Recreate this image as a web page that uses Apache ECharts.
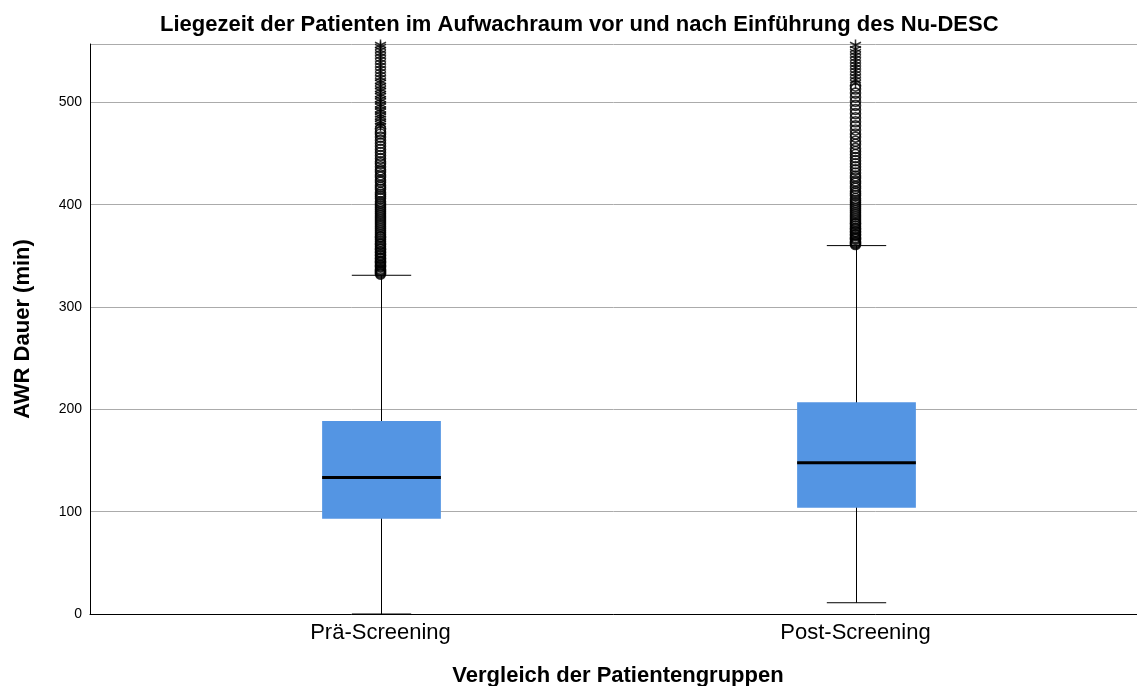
<!DOCTYPE html>
<html>
<head>
<meta charset="utf-8">
<script src="https://cdn.jsdelivr.net/npm/echarts@6/dist/echarts.min.js"></script>
<style>
  html, body { margin: 0; padding: 0; background: #fff; }
  #chart { width: 1137px; height: 686px; }
</style>
</head>
<body>
<div id="chart"></div>
<script>
// Patient groups
const categories = ['Prä-Screening', 'Post-Screening'];

// Box statistics per group: [lower whisker, Q1, median, Q3, upper whisker] in minutes
const preStats  = [0, 93, 133.5, 188.5, 331];
const postStats = [11, 103.8, 147.8, 207, 360];

// Outliers (circles) and extreme values (stars), minutes
const preOutliers = [332, 333, 334, 335, 336, 337, 339, 340, 341, 343, 344, 345, 347, 348, 350,
  351, 353, 354, 356, 357, 359, 361, 362, 364, 366, 368, 369, 371, 373, 375, 377, 379, 381, 383,
  385, 387, 389, 391, 393, 395, 397, 399, 401, 403, 406, 408, 410, 412, 415, 417, 419, 422, 424,
  427, 429, 432, 434, 437, 440, 442, 445, 448, 451, 454, 457, 460, 463, 466, 469, 471, 474];
const preExtremes = [477, 479, 481, 484, 486, 488, 491, 493, 496, 498, 501, 503, 506, 508, 511,
  513, 516, 519, 521, 524, 527, 530, 533, 536, 539, 542, 545, 548, 551, 554, 556];
const postOutliers = [361, 362, 363, 364, 366, 367, 368, 370, 371, 373, 374, 376, 377, 379, 381,
  382, 384, 386, 388, 390, 392, 394, 396, 398, 400, 402, 404, 406, 409, 411, 413, 416, 418, 421,
  423, 426, 428, 431, 434, 437, 440, 443, 446, 449, 452, 455, 459, 462, 466, 469, 473, 477, 481,
  485, 489, 493, 497, 501, 505, 509, 513, 516];
const postExtremes = [519, 522, 525, 528, 531, 534, 537, 540, 543, 546, 549, 552, 556];

// Y axis range / ticks
const yMin = 0, yMax = 557, yStep = 100;

const FONT = 'Liberation Sans, Arial, Helvetica, sans-serif';
const BOX_COLOR = '#5495e3';

const boxData = [[0].concat(preStats), [1].concat(postStats)];

function renderBox(params, api) {
  const idx = api.value(0);
  const band = api.size([1, 0])[0];
  const half = band * 0.125;
  const capHalf = band * 0.0625;
  const pMin = api.coord([idx, api.value(1)]);
  const pQ1 = api.coord([idx, api.value(2)]);
  const pMed = api.coord([idx, api.value(3)]);
  const pQ3 = api.coord([idx, api.value(4)]);
  const pMax = api.coord([idx, api.value(5)]);
  const cx = Math.round(pMin[0]) + 0.5;
  const thin = { stroke: '#000', lineWidth: 1 };
  return {
    type: 'group',
    children: [
      { type: 'line', shape: { x1: cx, y1: pMin[1], x2: cx, y2: pMax[1] }, style: thin },
      { type: 'line', shape: { x1: cx - capHalf, y1: pMin[1], x2: cx + capHalf, y2: pMin[1] }, style: thin },
      { type: 'line', shape: { x1: cx - capHalf, y1: pMax[1], x2: cx + capHalf, y2: pMax[1] }, style: thin },
      { type: 'rect', shape: { x: cx - half, y: pQ3[1], width: 2 * half, height: pQ1[1] - pQ3[1] },
        style: { fill: BOX_COLOR } },
      { type: 'line', shape: { x1: cx - half, y1: pMed[1], x2: cx + half, y2: pMed[1] },
        style: { stroke: '#000', lineWidth: 3 } }
    ]
  };
}

const toPoints = (i, arr) => arr.map(v => [i, v]);
const STAR = 'path://M5,0L5,10M0.67,2.5L9.33,7.5M0.67,7.5L9.33,2.5';

const chart = echarts.init(document.getElementById('chart'), null, { renderer: 'canvas' });
chart.setOption({
  animation: false,
  backgroundColor: '#fff',
  title: {
    text: 'Liegezeit der Patienten im Aufwachraum vor und nach Einführung des Nu-DESC',
    left: 155, top: 9,
    textStyle: { fontFamily: FONT, fontSize: 22, fontWeight: 'bold', color: '#000' }
  },
  grid: [
    { left: 90, right: 0, top: 44, bottom: 72, containLabel: false, outerBoundsMode: 'none' },
    { left: 143, right: 44, top: 44, bottom: 72, containLabel: false, outerBoundsMode: 'none' }
  ],
  xAxis: [
    {
      gridIndex: 0, type: 'value', min: 0, max: 1,
      axisLine: { show: true, lineStyle: { color: '#000', width: 1 } },
      axisTick: { show: false }, axisLabel: { show: false }, splitLine: { show: false }
    },
    {
      gridIndex: 1, type: 'category', data: categories,
      axisLine: { show: false }, axisTick: { show: false },
      axisLabel: { fontFamily: FONT, fontSize: 22, color: '#000', margin: 8 },
      name: 'Vergleich der Patientengruppen', nameLocation: 'middle', nameGap: 51,
      nameTextStyle: { fontFamily: FONT, fontSize: 22, fontWeight: 'bold', color: '#000' }
    }
  ],
  yAxis: [
    {
      gridIndex: 0, type: 'value', min: yMin, max: yMax, interval: yStep,
      axisLine: { show: true, lineStyle: { color: '#000', width: 1 } },
      axisTick: { show: false },
      axisLabel: { fontFamily: FONT, fontSize: 14, color: '#000', margin: 8, showMaxLabel: false },
      splitLine: { show: true, lineStyle: { color: '#ababab', width: 1 } },
      name: 'AWR Dauer (min)', nameLocation: 'middle', nameGap: 56,
      nameTextStyle: { fontFamily: FONT, fontSize: 22, fontWeight: 'bold', color: '#000' }
    },
    {
      gridIndex: 1, type: 'value', min: yMin, max: yMax, interval: yStep, show: false
    }
  ],
  series: [
    {
      type: 'custom', xAxisIndex: 1, yAxisIndex: 1,
      renderItem: renderBox, data: boxData,
      encode: { x: 0, y: [1, 2, 3, 4, 5] }, z: 2
    },
    {
      type: 'scatter', xAxisIndex: 1, yAxisIndex: 1,
      data: toPoints(0, preOutliers).concat(toPoints(1, postOutliers)),
      symbol: 'circle', symbolSize: 10,
      itemStyle: { color: 'rgba(0,0,0,0)', borderColor: '#000', borderWidth: 1.6 }, z: 3
    },
    {
      type: 'scatter', xAxisIndex: 1, yAxisIndex: 1,
      data: toPoints(0, preExtremes).concat(toPoints(1, postExtremes)),
      symbol: STAR, symbolSize: 11,
      itemStyle: { color: 'rgba(0,0,0,0)', borderColor: '#000', borderWidth: 1.5 }, z: 3
    }
  ]
});
</script>
</body>
</html>
